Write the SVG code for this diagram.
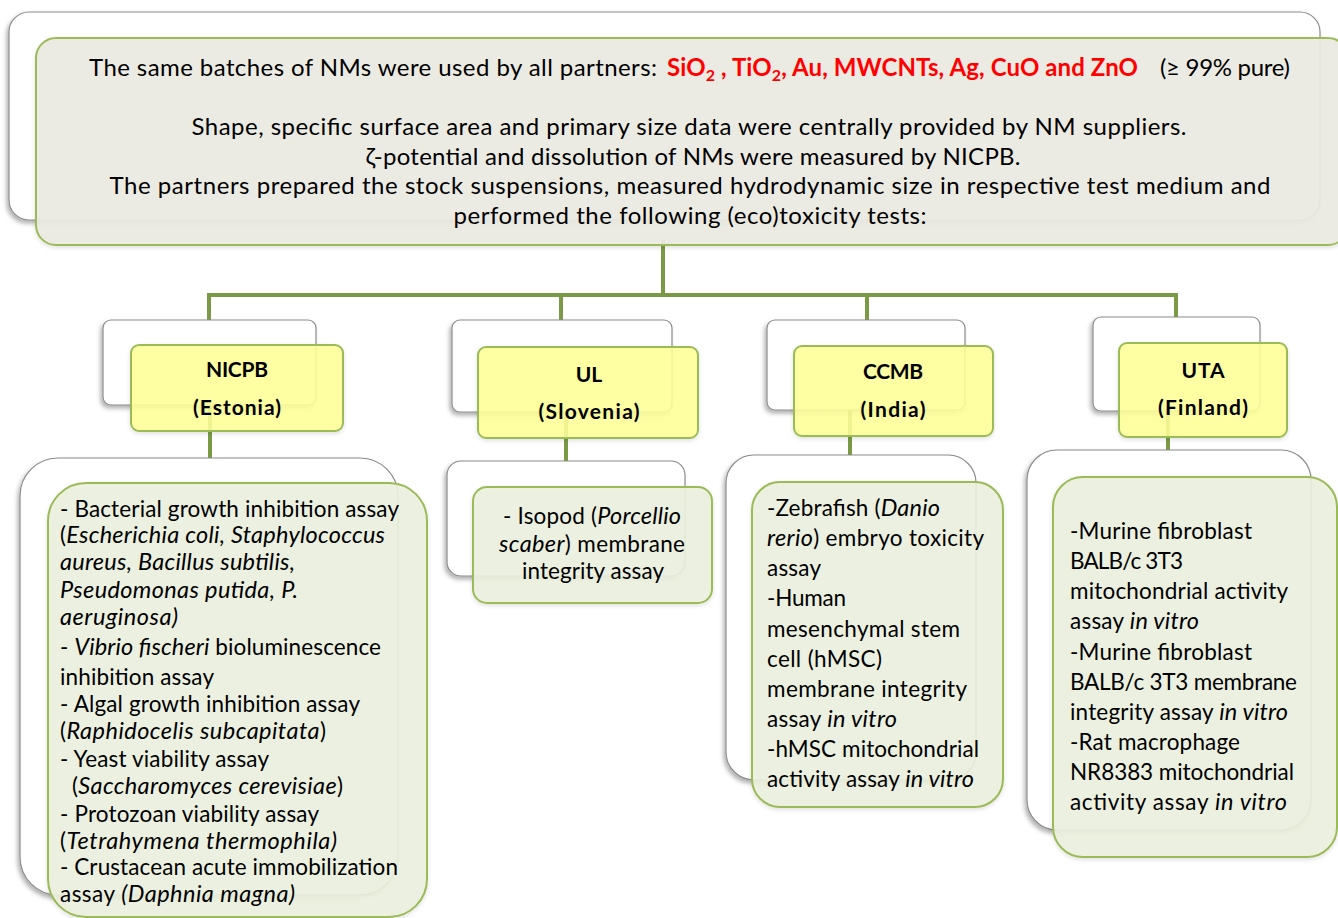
<svg xmlns="http://www.w3.org/2000/svg" width="1338" height="918" viewBox="0 0 1338 918" xml:space="preserve">
<defs>
<filter id="sh" x="-10%" y="-10%" width="120%" height="130%">
<feDropShadow dx="-2" dy="3" stdDeviation="2" flood-color="#000" flood-opacity="0.3"/>
</filter>
<filter id="sh2" x="-10%" y="-10%" width="120%" height="130%">
<feDropShadow dx="0" dy="2" stdDeviation="2" flood-color="#000" flood-opacity="0.12"/>
</filter>
</defs>
<style>
text{font-family:Lato,"Liberation Sans",sans-serif;fill:#000}
.wb{fill:#fff;stroke:#8c8c8c;stroke-width:1.2;filter:url(#sh)}
.top{fill:#ecebe2;fill-opacity:0.93;stroke:#9bbb59;stroke-width:2;filter:url(#sh2)}
.yb{fill:#ffff99;fill-opacity:0.88;stroke:#9bbb59;stroke-width:2;filter:url(#sh2)}
.gb{fill:#ebf1de;fill-opacity:0.9;stroke:#9bbb59;stroke-width:2;filter:url(#sh2)}
.con{stroke:#7b9a46;stroke-width:4;fill:none}
.t{font-size:24px}
.red{fill:#ff0000;font-weight:bold}
.h{font-size:21px;font-weight:bold;text-anchor:middle}
.b{font-size:22.5px}
.i{font-style:italic;font-size:23.5px}
.c{text-anchor:middle}
</style>
<g id="connectors">
<line class="con" x1="663" y1="240" x2="663" y2="297"/>
<polyline class="con" points="209,322 209,295 1176,295 1176,320"/>
<line class="con" x1="663" y1="295" x2="867" y2="295" stroke-width="6"/>
<line class="con" x1="561" y1="295" x2="561" y2="322"/>
<line class="con" x1="867" y1="295" x2="867" y2="322"/>
<line class="con" x1="210" y1="405" x2="210" y2="460"/>
<line class="con" x1="566" y1="412" x2="566" y2="463"/>
<line class="con" x1="850" y1="410" x2="850" y2="457"/>
<line class="con" x1="1168" y1="411" x2="1168" y2="452"/>
</g>
<g id="top">
<rect class="wb" x="9" y="12" width="1311" height="208" rx="20"/>
<rect class="top" x="36" y="38" width="1312" height="207" rx="20"/>
<text class="t" x="89" y="76" textLength="568">The same batches of NMs were used by all partners:</text>
<text class="t red" x="667" y="76" textLength="471">SiO<tspan font-size="16" dy="5">2</tspan><tspan dy="-5"> , TiO</tspan><tspan font-size="16" dy="5">2</tspan><tspan dy="-5">, Au, MWCNTs, Ag, CuO and ZnO</tspan></text>
<text class="t" x="1160" y="76" textLength="130">(≥ 99% pure)</text>
<text class="t c" x="689" y="135" textLength="995">Shape, specific surface area and primary size data were centrally provided by NM suppliers.</text>
<text class="t c" x="693" y="165" textLength="655">ζ-potential and dissolution of NMs were measured by NICPB.</text>
<text class="t c" x="690" y="194" textLength="1161">The partners prepared the stock suspensions, measured hydrodynamic size in respective test medium and</text>
<text class="t c" x="690" y="224" textLength="473">performed the following (eco)toxicity tests:</text>
</g>
<g id="nicpb">
<rect class="wb" x="103" y="320" width="213" height="85" rx="8"/>
<rect class="yb" x="131" y="345" width="212" height="86" rx="8"/>
<text class="h" x="237" y="377" textLength="62">NICPB</text>
<text class="h" x="237" y="415" textLength="88">(Estonia)</text>
</g>
<g id="ul">
<rect class="wb" x="452" y="320" width="220" height="92" rx="8"/>
<rect class="yb" x="478" y="347" width="220" height="91" rx="8"/>
<text class="h" x="589" y="382">UL</text>
<text class="h" x="589" y="419" textLength="101">(Slovenia)</text>
</g>
<g id="ccmb">
<rect class="wb" x="767" y="320" width="198" height="90" rx="8"/>
<rect class="yb" x="794" y="346" width="199" height="90" rx="8"/>
<text class="h" x="893" y="379" textLength="60">CCMB</text>
<text class="h" x="893" y="417" textLength="65">(India)</text>
</g>
<g id="uta">
<rect class="wb" x="1093" y="317" width="167" height="94" rx="8"/>
<rect class="yb" x="1119" y="343" width="168" height="94" rx="8"/>
<text class="h" x="1203" y="378" textLength="43">UTA</text>
<text class="h" x="1203" y="415" textLength="90">(Finland)</text>
</g>
<g id="nicpb-tests">
<rect class="wb" x="20" y="458" width="378" height="437" rx="38"/>
<rect class="gb" x="48" y="483" width="379" height="434" rx="38"/>
<text class="b" x="60" y="517" textLength="339">- Bacterial growth inhibition assay</text>
<text class="b" x="60" y="543" textLength="325">(<tspan class="i">Escherichia coli, Staphylococcus</tspan></text>
<text class="b i" x="60" y="570" textLength="235">aureus, Bacillus subtilis,</text>
<text class="b i" x="60" y="598" textLength="238">Pseudomonas putida, P.</text>
<text class="b i" x="60" y="625" textLength="118">aeruginosa)</text>
<text class="b" x="60" y="655" textLength="321">- <tspan class="i">Vibrio fischeri</tspan> bioluminescence</text>
<text class="b" x="60" y="685" textLength="154">inhibition assay</text>
<text class="b" x="60" y="712" textLength="300">- Algal growth inhibition assay</text>
<text class="b" x="60" y="739" textLength="266">(<tspan class="i">Raphidocelis subcapitata</tspan>)</text>
<text class="b" x="60" y="767" textLength="209">- Yeast viability assay</text>
<text class="b" x="72" y="794" textLength="271">(<tspan class="i">Saccharomyces cerevisiae</tspan>)</text>
<text class="b" x="60" y="822" textLength="259">- Protozoan viability assay</text>
<text class="b" x="60" y="849" textLength="277">(<tspan class="i">Tetrahymena thermophila)</tspan></text>
<text class="b" x="60" y="875" textLength="338">- Crustacean acute immobilization</text>
<text class="b" x="60" y="902" textLength="235">assay <tspan class="i">(Daphnia magna)</tspan></text>
</g>
<g id="ul-tests">
<rect class="wb" x="447" y="461" width="238" height="115" rx="14"/>
<rect class="gb" x="473" y="487" width="239" height="116" rx="14"/>
<text class="b c" x="592" y="524" textLength="178">- Isopod (<tspan class="i">Porcellio</tspan></text>
<text class="b c" x="592" y="552" textLength="186"><tspan class="i">scaber</tspan>) membrane</text>
<text class="b c" x="593" y="579" textLength="142">integrity assay</text>
</g>
<g id="ccmb-tests">
<rect class="wb" x="726" y="455" width="250" height="325" rx="28"/>
<rect class="gb" x="752" y="482" width="251" height="325" rx="28"/>
<text class="b" x="767" y="516" textLength="173">-Zebrafish (<tspan class="i">Danio</tspan></text>
<text class="b" x="767" y="546" textLength="217"><tspan class="i">rerio</tspan>) embryo toxicity</text>
<text class="b" x="767" y="576" textLength="54">assay</text>
<text class="b" x="767" y="606" textLength="79">-Human</text>
<text class="b" x="767" y="637" textLength="193">mesenchymal  stem</text>
<text class="b" x="767" y="667" textLength="115">cell (hMSC)</text>
<text class="b" x="767" y="697" textLength="200">membrane  integrity</text>
<text class="b" x="767" y="727" textLength="130">assay <tspan class="i">in vitro</tspan></text>
<text class="b" x="767" y="757" textLength="212">-hMSC mitochondrial</text>
<text class="b" x="767" y="787" textLength="207">activity assay <tspan class="i">in vitro</tspan></text>
</g>
<g id="uta-tests">
<rect class="wb" x="1027" y="450" width="284" height="380" rx="30"/>
<rect class="gb" x="1053" y="477" width="284" height="380" rx="30"/>
<text class="b" x="1070" y="539" textLength="182">-Murine fibroblast</text>
<text class="b" x="1070" y="569" textLength="113">BALB/c 3T3</text>
<text class="b" x="1070" y="599" textLength="218">mitochondrial activity</text>
<text class="b" x="1070" y="629" textLength="129">assay <tspan class="i">in vitro</tspan></text>
<text class="b" x="1070" y="660" textLength="182">-Murine fibroblast</text>
<text class="b" x="1070" y="690" textLength="227">BALB/c 3T3 membrane</text>
<text class="b" x="1070" y="720" textLength="218">integrity assay <tspan class="i">in vitro</tspan></text>
<text class="b" x="1070" y="750" textLength="170">-Rat macrophage</text>
<text class="b" x="1070" y="780" textLength="224">NR8383 mitochondrial</text>
<text class="b" x="1070" y="810" textLength="217">activity  assay  <tspan class="i">in vitro</tspan></text>
</g>
</svg>
